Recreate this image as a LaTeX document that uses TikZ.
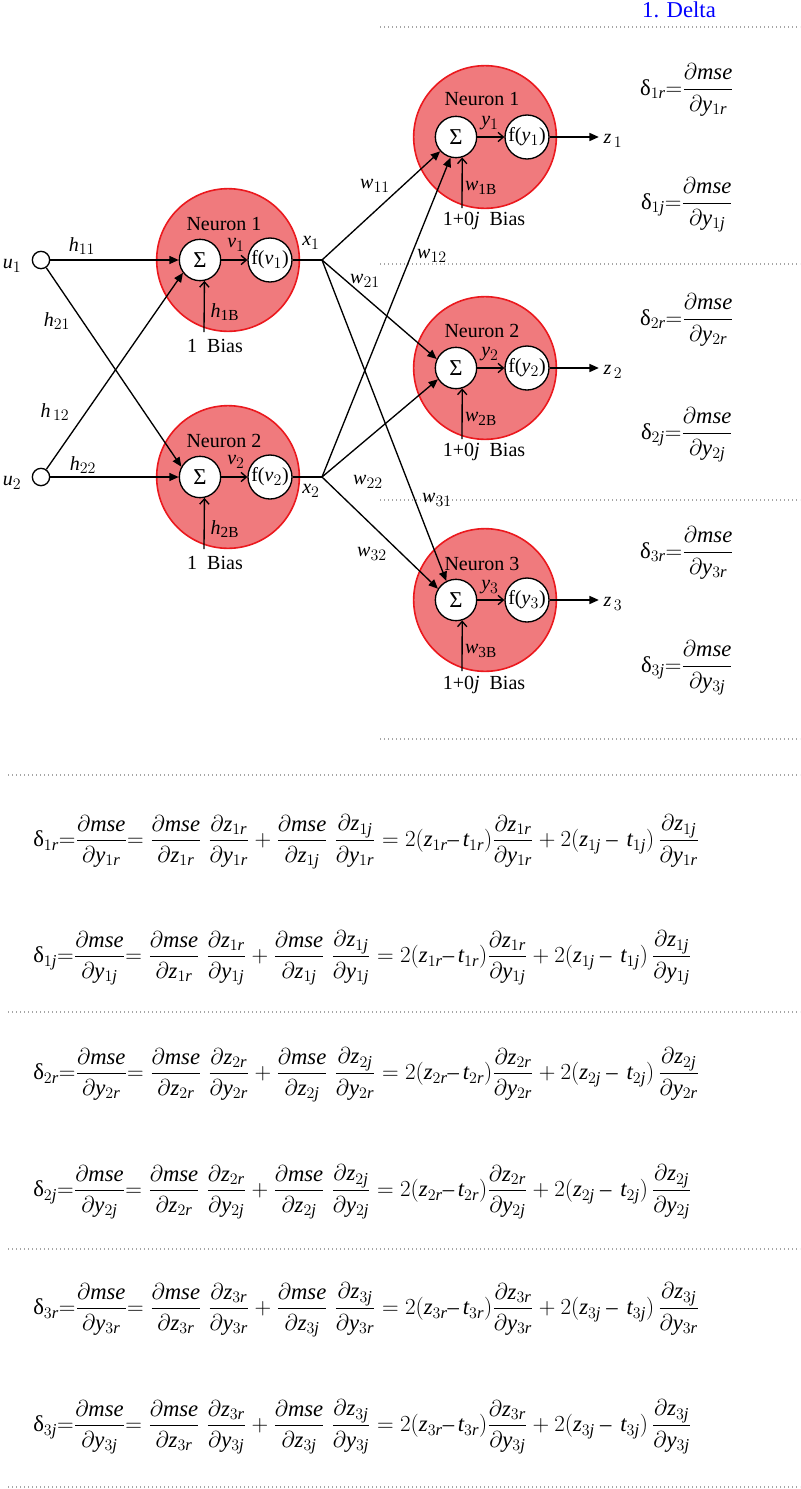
\documentclass[tikz,border=0pt]{standalone}
\usepackage{amsmath}
\usepackage{fontspec}
\setmainfont{Liberation Serif}
\usepackage[italic]{mathastext}
\usetikzlibrary{arrows.meta, positioning, calc}
\definecolor{neuronred}{RGB}{235, 25, 30}
\definecolor{neuronpink}{RGB}{240, 122, 125}
\definecolor{sepgray}{RGB}{165, 165, 165}
\definecolor{titleblue}{RGB}{0, 0, 255}
\DeclareMathSizes{15}{15}{11.5}{9}
\DeclareMathSizes{17}{17}{12.5}{10}

\newcommand{\dlt}[1]{\text{δ}_{#1}}
\newcommand{\dmse}[2]{\dfrac{\partial mse}{\partial #1_{#2}}}
\newcommand{\chainline}[2]{%
  $\dlt{#1#2}{=}\dmse{y}{#1#2}{=}\;\dmse{z}{#1r}\;\dfrac{\partial z_{#1r}}{\partial y_{#1#2}}+\dmse{z}{#1j}\;\dfrac{\partial z_{#1j}}{\partial y_{#1#2}}=2(z_{#1r}{-}\,t_{#1r})\dfrac{\partial z_{#1r}}{\partial y_{#1#2}}+2(z_{#1j}-\,t_{#1j})\,\dfrac{\partial z_{#1j}}{\partial y_{#1#2}}$}

\begin{document}
\begin{tikzpicture}[
    x=0.75pt, y=-0.75pt,
    font=\fontsize{15}{18}\selectfont,
    neuron/.style={
        circle, draw=neuronred, line width=1.2pt, fill=neuronpink,
        minimum size=107pt, inner sep=0pt
    },
    sumnode/.style={
        circle, draw, line width=1pt, fill=white,
        minimum size=31pt, inner sep=0pt, font=\fontsize{17}{20}\selectfont
    },
    actnode/.style={
        circle, draw, line width=1pt, fill=white,
        minimum size=33pt, inner sep=0pt
    },
    inputnode/.style={circle, draw, line width=1pt, fill=white, minimum size=13pt, inner sep=0pt},
    weight/.style={-{Triangle[length=7pt, width=6pt]}, line width=1pt},
    feed/.style={-{Straight Barb[length=4pt, width=7pt]}, line width=1pt},
    tag/.style={inner sep=0.5pt},
    eqn/.style={font=\fontsize{17}{20}\selectfont, inner sep=0pt},
    separator/.style={sepgray, line width=1pt, dash pattern=on 1pt off 2pt}
]
\useasboundingbox (0,0) rectangle (800,1489);

% TITLE and separators
\node[text=titleblue, font=\fontsize{17}{20}\selectfont] (title) at (679,10) {1. Delta};
\draw[separator] (380,27) -- (800,27);
\draw[separator] (380,264) -- (800,264);
\draw[separator] (380,500) -- (800,500);
\draw[separator] (380,739) -- (800,739);
\draw[separator] (8,775) -- (800,775);
\draw[separator] (8,1012) -- (800,1012);
\draw[separator] (8,1249) -- (800,1249);
\draw[separator] (8,1487) -- (800,1487);

% HIDDEN LAYER - big circles
\node[neuron] (hn1) at (228,260) {};
\node[neuron] (hn2) at (228,477) {};
\node[tag] (hname1) at (224,224) {Neuron 1};
\node[tag] (hname2) at (224,441) {Neuron 2};

% OUTPUT LAYER - big circles
\node[neuron] (on1) at (485,137) {};
\node[neuron] (on2) at (485,368) {};
\node[neuron] (on3) at (485,600) {};
\node[tag] (oname1) at (482,99) {Neuron 1};
\node[tag] (oname2) at (482,331) {Neuron 2};
\node[tag] (oname3) at (482,564) {Neuron 3};

% Inputs
\node[inputnode] (u1) at (41,260) {};
\node[inputnode] (u2) at (41,477) {};
\node (lu1) at (12,266) {$u_1$};
\node (lu2) at (12,483) {$u_2$};

% Summing and activation nodes
\node[sumnode] (hs1) at (200,260) {Σ};
\node[actnode] (hf1) at (270,260) {f($v_1$)};
\node[sumnode] (hs2) at (200,477) {Σ};
\node[actnode] (hf2) at (270,477) {f($v_2$)};
\node[sumnode] (os1) at (456,137) {Σ};
\node[actnode] (of1) at (527,137) {f($y_1$)};
\node[sumnode] (os2) at (456,368) {Σ};
\node[actnode] (of2) at (527,368) {f($y_2$)};
\node[sumnode] (os3) at (456,600) {Σ};
\node[actnode] (of3) at (527,600) {f($y_3$)};

% Input weights
\draw[weight] (u1) -- (hs1.west);
\draw[weight] (u1) -- (hs2.151);
\draw[weight] (u2) -- (hs1.217);
\draw[weight] (u2) -- (hs2.west);
\node (lh11) at (82,246) {$h_{11}$};
\node (lh21) at (57,321) {$h_{21}$};
\node (lh12) at (55,412) {$h_{\,12}$};
\node (lh22) at (83,465) {$h_{22}$};

% Hidden internals
\draw[feed] (hs1) -- (hf1);
\draw[feed] (hs2) -- (hf2);
\node[tag] (lv1) at (236,245) {$v_1$};
\node[tag] (lv2) at (236,462) {$v_2$};
\coordinate (hb1) at (204,332);
\coordinate (hb2) at (204,549);
\draw[feed] (hb1) -- (hs1.282);
\draw[feed] (hb2) -- (hs2.282);
\node (lh1B) at (225,312) {$h_{\text{1B}}$};
\node (lh2B) at (225,529) {$h_{\text{2B}}$};
\node (hbias1) at (215,346) {1\ \ Bias};
\node (hbias2) at (215,563) {1\ \ Bias};

% Hidden outputs
\coordinate (x1) at (322,260);
\coordinate (x2) at (322,477);
\draw[line width=1pt] (hf1) -- (x1);
\draw[line width=1pt] (hf2) -- (x2);
\node (lx1) at (311,243) {$x_1$};
\node (lx2) at (311,491) {$x_2$};

% Output weights
\draw[weight] (x1) -- (os1.222);
\draw[weight] (x2) -- (os1.255);
\draw[weight] (x1) -- (os2.155);
\draw[weight] (x2) -- (os2.212);
\draw[weight] (x1) -- (os3.117);
\draw[weight] (x2) -- (os3.148);
\node (lw11) at (375,186) {$w_{11}$};
\node (lw12) at (432,256) {$w_{12}$};
\node (lw21) at (365,281) {$w_{21}$};
\node (lw22) at (368,482) {$w_{22}$};
\node (lw31) at (437,500) {$w_{31}$};
\node (lw32) at (372,554) {$w_{32}$};

% Output internals
\draw[feed] (os1) -- (of1);
\draw[feed] (os2) -- (of2);
\draw[feed] (os3) -- (of3);
\node[tag] (ly1) at (490,123) {$y_1$};
\node[tag] (ly2) at (490,354) {$y_2$};
\node[tag] (ly3) at (490,587) {$y_3$};
\coordinate (ob1) at (462,208);
\coordinate (ob2) at (462,439);
\coordinate (ob3) at (462,671);
\draw[feed] (ob1) -- (os1.287);
\draw[feed] (ob2) -- (os2.287);
\draw[feed] (ob3) -- (os3.287);
\node (lw1B) at (481,188) {$w_{\text{1B}}$};
\node (lw2B) at (481,419) {$w_{\text{2B}}$};
\node (lw3B) at (481,651) {$w_{\text{3B}}$};
\node (obias1) at (484,221) {1+0$j$\ \ Bias};
\node (obias2) at (484,452) {1+0$j$\ \ Bias};
\node (obias3) at (484,685) {1+0$j$\ \ Bias};

% Outputs z
\node (z1) at (613,141) {$z_{\,1}$};
\node (z2) at (613,372) {$z_{\,2}$};
\node (z3) at (613,604) {$z_{\,3}$};
\draw[weight] (of1) -- (of1 -| z1.west);
\draw[weight] (of2) -- (of2 -| z2.west);
\draw[weight] (of3) -- (of3 -| z3.west);

% Delta definitions (right)
\node[eqn] (d1r) at (687,90) {$\dlt{1r}{=}\dfrac{\partial mse}{\partial y_{1r}}$};
\node[eqn] (d1j) at (687,205) {$\dlt{1j}{=}\dfrac{\partial mse}{\partial y_{1j}}$};
\node[eqn] (d2r) at (687,320) {$\dlt{2r}{=}\dfrac{\partial mse}{\partial y_{2r}}$};
\node[eqn] (d2j) at (687,435) {$\dlt{2j}{=}\dfrac{\partial mse}{\partial y_{2j}}$};
\node[eqn] (d3r) at (687,553) {$\dlt{3r}{=}\dfrac{\partial mse}{\partial y_{3r}}$};
\node[eqn] (d3j) at (687,668) {$\dlt{3j}{=}\dfrac{\partial mse}{\partial y_{3j}}$};

% Chain rule (bottom)
\node[eqn, anchor=west] (c1r) at (33,842) {\chainline{1}{r}};
\node[eqn, anchor=west] (c1j) at (33,958) {\chainline{1}{j}};
\node[eqn, anchor=west] (c2r) at (33,1075) {\chainline{2}{r}};
\node[eqn, anchor=west] (c2j) at (33,1192) {\chainline{2}{j}};
\node[eqn, anchor=west] (c3r) at (33,1310) {\chainline{3}{r}};
\node[eqn, anchor=west] (c3j) at (33,1427) {\chainline{3}{j}};

\end{tikzpicture}
\end{document}
